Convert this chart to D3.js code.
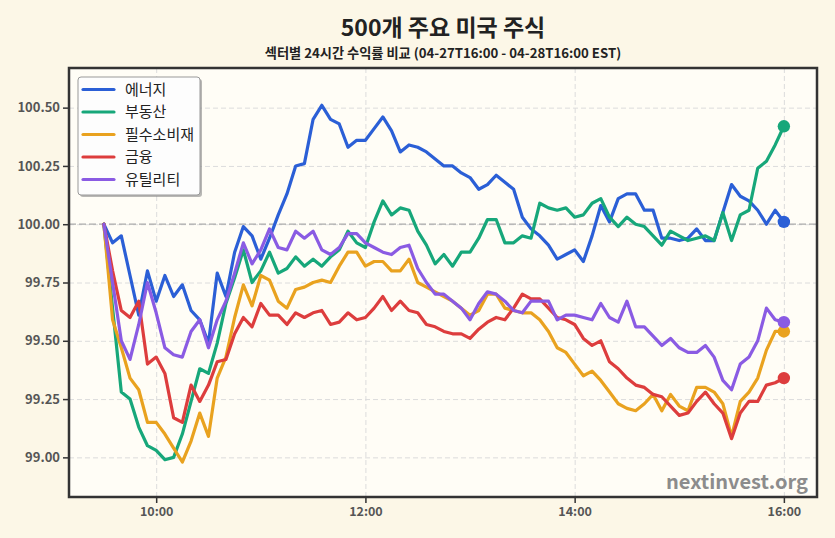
<!DOCTYPE html>
<html><head><meta charset="utf-8">
<script src="https://cdn.jsdelivr.net/npm/d3@7"></script>
<style>
html,body{margin:0;padding:0;background:#fcf7e7;}
svg{display:block;}
text{font-family:"Noto Sans CJK KR","Noto Sans",sans-serif;}
</style></head>
<body>
<svg id="chart" width="835" height="538"></svg>
<script>
const title = "500개 주요 미국 주식";
const subtitle = "섹터별 24시간 수익률 비교 (04-27T16:00 - 04-28T16:00 EST)";
const watermark = "nextinvest.org";
const sectors = ["에너지", "부동산", "필수소비재", "금융", "유틸리티"];
const colors = ["#2b5fd6", "#17a77a", "#e9a21f", "#dd3d3d", "#8a5be3"];
const yTicks = [99.00, 99.25, 99.50, 99.75, 100.00, 100.25, 100.50];
const xTickHours = [10, 12, 14, 16];

const energy = [100.00,99.92,99.95,99.78,99.61,99.80,99.67,99.78,99.69,99.74,99.63,99.59,99.49,99.79,99.69,99.88,99.99,99.95,99.85,99.94,
100.04,100.13,100.25,100.26,100.45,100.51,100.45,100.43,100.33,100.36,100.36,100.41,100.46,100.40,100.31,100.34,100.33,100.31,100.28,100.25,
100.25,100.22,100.20,100.15,100.17,100.21,100.18,100.15,100.03,99.98,99.95,99.91,99.85,99.87,99.89,99.84,99.95,100.08,100.01,100.11,
100.13,100.13,100.06,100.06,99.94,99.94,99.93,99.94,99.98,99.93,99.93,100.05,100.17,100.12,100.10,100.06,100.00,100.06,100.01];
const realEstate = [100.00,99.64,99.28,99.25,99.13,99.05,99.03,98.99,99.00,99.10,99.24,99.38,99.36,99.49,99.66,99.77,99.89,99.75,99.80,99.88,
99.79,99.81,99.86,99.82,99.85,99.82,99.86,99.89,99.97,99.92,99.90,100.01,100.10,100.04,100.07,100.06,99.97,99.91,99.83,99.87,
99.82,99.88,99.88,99.94,100.02,100.02,99.92,99.92,99.95,99.94,100.09,100.07,100.06,100.07,100.03,100.04,100.09,100.11,100.03,99.99,
100.03,100.00,99.99,99.95,99.91,99.97,99.95,99.93,99.94,99.95,99.93,100.05,99.93,100.04,100.06,100.24,100.27,100.34,100.42];
const staples = [100.00,99.59,99.47,99.34,99.29,99.15,99.15,99.10,99.04,98.98,99.07,99.19,99.09,99.34,99.43,99.60,99.74,99.65,99.78,99.76,
99.67,99.64,99.72,99.73,99.75,99.76,99.75,99.82,99.88,99.88,99.82,99.84,99.84,99.80,99.80,99.85,99.75,99.73,99.71,99.69,
99.67,99.64,99.61,99.63,99.70,99.70,99.64,99.63,99.62,99.62,99.59,99.54,99.47,99.45,99.40,99.35,99.37,99.33,99.28,99.23,
99.21,99.20,99.23,99.27,99.20,99.27,99.22,99.20,99.30,99.30,99.28,99.23,99.09,99.24,99.28,99.34,99.46,99.54,99.54];
const financials = [100.00,99.80,99.63,99.60,99.67,99.40,99.43,99.36,99.17,99.15,99.31,99.24,99.31,99.41,99.42,99.53,99.60,99.56,99.66,99.61,
99.61,99.57,99.62,99.60,99.62,99.63,99.57,99.58,99.62,99.59,99.60,99.64,99.69,99.63,99.67,99.63,99.62,99.57,99.56,99.54,
99.53,99.53,99.51,99.55,99.58,99.60,99.59,99.64,99.70,99.68,99.68,99.64,99.60,99.59,99.57,99.51,99.48,99.50,99.41,99.38,
99.34,99.31,99.30,99.27,99.26,99.22,99.18,99.19,99.24,99.28,99.23,99.19,99.08,99.19,99.24,99.24,99.31,99.32,99.34];
const utilities = [100.00,99.75,99.50,99.42,99.57,99.75,99.62,99.47,99.44,99.43,99.54,99.59,99.47,99.59,99.67,99.79,99.92,99.83,99.89,99.98,
99.90,99.89,99.97,99.94,99.97,99.89,99.87,99.90,99.96,99.96,99.92,99.90,99.88,99.87,99.90,99.91,99.81,99.75,99.70,99.70,
99.67,99.64,99.59,99.66,99.71,99.70,99.67,99.63,99.62,99.67,99.67,99.67,99.59,99.61,99.61,99.60,99.59,99.66,99.60,99.58,
99.67,99.56,99.56,99.52,99.48,99.51,99.47,99.45,99.45,99.48,99.43,99.33,99.29,99.40,99.43,99.50,99.64,99.59,99.58];
const seriesValues = [energy, realEstate, staples, financials, utilities];

// 5-minute timestamps 09:30 .. 16:00
const day = (h, m) => new Date(2025, 3, 28, h, m);
const times = d3.timeMinute.every(5).range(day(9,30), day(16,1));

const svg = d3.select("#chart");
const L = 69, R = 817, T = 68, B = 497;

const x = d3.scaleTime().domain([day(9,10.5), day(16,19.5)]).range([L, R]);
const y = d3.scaleLinear().domain([98.83, 100.67]).range([B, T]);

// plot background
svg.append("rect").attr("x", L).attr("y", T).attr("width", R-L).attr("height", B-T).attr("fill", "#fffdf6");

// grid
const gx = d3.axisBottom(x).tickValues(xTickHours.map(h => day(h,0))).tickSize(-(B-T)).tickFormat("");
svg.append("g").attr("transform", `translate(0,${B})`).call(gx)
  .call(g => g.select(".domain").remove())
  .call(g => g.selectAll("line").attr("stroke", "#dcdcdc").attr("stroke-dasharray", "5,3").attr("stroke-width", 1));
const gy = d3.axisLeft(y).tickValues(yTicks).tickSize(-(R-L)).tickFormat("");
svg.append("g").attr("transform", `translate(${L},0)`).call(gy)
  .call(g => g.select(".domain").remove())
  .call(g => g.selectAll("line").attr("stroke", "#dcdcdc").attr("stroke-dasharray", "5,3").attr("stroke-width", 1));

// baseline 100
svg.append("line").attr("x1", L).attr("x2", R).attr("y1", y(100)).attr("y2", y(100))
  .attr("stroke", "#aaaaaa").attr("stroke-width", 1.3).attr("stroke-dasharray", "7,3");

// lines
const line = d3.line().x((d, i) => x(times[i])).y(d => y(d));
const clip = svg.append("clipPath").attr("id", "clip").append("rect")
  .attr("x", L).attr("y", T).attr("width", R-L).attr("height", B-T);
seriesValues.forEach((vals, k) => {
  svg.append("path").datum(vals).attr("d", line)
    .attr("fill", "none").attr("stroke", colors[k]).attr("stroke-width", 3.2)
    .attr("stroke-linejoin", "round").attr("stroke-linecap", "round")
    .attr("clip-path", "url(#clip)");
});
seriesValues.forEach((vals, k) => {
  const n = vals.length - 1;
  svg.append("circle").attr("cx", x(times[n])).attr("cy", y(vals[n])).attr("r", 6.2).attr("fill", colors[k]);
});

// frame
svg.append("rect").attr("x", L).attr("y", T).attr("width", R-L).attr("height", B-T)
  .attr("fill", "none").attr("stroke", "#333").attr("stroke-width", 2.5);

// axes
const ax = d3.axisBottom(x).tickValues(xTickHours.map(h => day(h,0))).tickSize(5).tickPadding(4)
  .tickFormat(d3.timeFormat("%H:%M"));
svg.append("g").attr("transform", `translate(0,${B+1})`).call(ax)
  .call(g => g.select(".domain").remove())
  .call(g => g.selectAll("line").attr("stroke", "#333").attr("stroke-width", 1.5))
  .call(g => g.selectAll("text").attr("fill", "#555").attr("font-size", 12.5).attr("font-weight", "bold")
    .attr("font-family", '"Noto Sans CJK KR","Noto Sans",sans-serif'));
const ay = d3.axisLeft(y).tickValues(yTicks).tickSize(5).tickPadding(3).tickFormat(d3.format(".2f"));
svg.append("g").attr("transform", `translate(${L-1},0)`).call(ay)
  .call(g => g.select(".domain").remove())
  .call(g => g.selectAll("line").attr("stroke", "#333").attr("stroke-width", 1.5))
  .call(g => g.selectAll("text").attr("fill", "#555").attr("font-size", 13).attr("font-weight", "bold")
    .attr("font-family", '"Noto Sans CJK KR","Noto Sans",sans-serif'));

// titles
svg.append("text").attr("x", (L+R)/2).attr("y", 36).attr("text-anchor", "middle")
  .attr("font-size", 23).attr("font-weight", "bold").attr("fill", "#222").text(title);
svg.append("text").attr("x", (L+R)/2).attr("y", 58).attr("text-anchor", "middle")
  .attr("font-size", 13.2).attr("font-weight", "bold").attr("fill", "#222").text(subtitle);

// watermark
svg.append("text").attr("x", 808).attr("y", 489).attr("text-anchor", "end")
  .attr("font-size", 20).attr("font-weight", "bold").attr("fill", "#8c8c8c")
  .attr("font-family", '"Noto Sans","Noto Sans CJK KR",sans-serif').text(watermark);

// legend
const lg = svg.append("g");
lg.append("rect").attr("x", 80).attr("y", 79).attr("width", 122).attr("height", 118).attr("rx", 3)
  .attr("fill", "#888").attr("opacity", 0.6);
lg.append("rect").attr("x", 78).attr("y", 77).attr("width", 122).attr("height", 118).attr("rx", 3)
  .attr("fill", "#fdfdfd").attr("stroke", "#999").attr("stroke-width", 1);
sectors.forEach((s, k) => {
  const yy = 89.5 + k*22.5;
  lg.append("line").attr("x1", 83).attr("x2", 114).attr("y1", yy).attr("y2", yy)
    .attr("stroke", colors[k]).attr("stroke-width", 3.2).attr("stroke-linecap", "round");
  lg.append("text").attr("x", 125).attr("y", yy).attr("dy", "0.35em").attr("font-size", 15)
    .attr("fill", "#222").text(s);
});
</script>
</body></html>
